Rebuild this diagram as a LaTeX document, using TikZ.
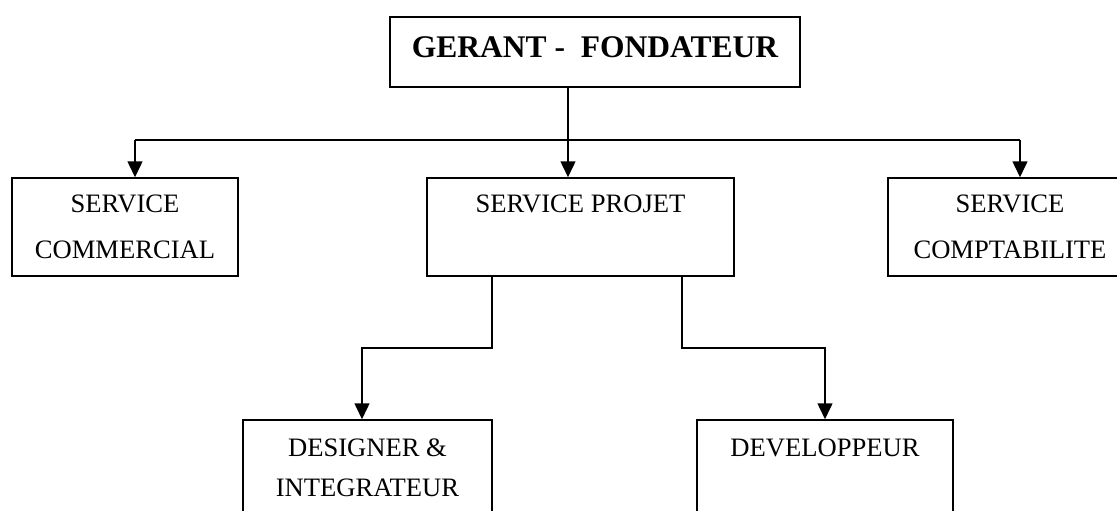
\documentclass[tikz,border=0pt]{standalone}
\usepackage{fontspec}
\setmainfont{Liberation Serif}
\usetikzlibrary{arrows.meta}

\begin{document}
\begin{tikzpicture}[x=1pt,y=-1pt,
  box/.style={draw, line width=1.5pt, inner sep=0pt, align=center,
    font=\fontsize{26.6pt}{46pt}\selectfont},
  link/.style={line width=1.5pt},
  arrow/.style={link, -{Triangle[width=15pt,length=16pt]}}]
  \useasboundingbox (0,0) rectangle (1117,511);
  \node[box, minimum width=410pt, minimum height=70pt, text depth=9pt,
    font=\fontsize{31.5pt}{36pt}\selectfont\bfseries] (gerant) at (595,52) {GERANT - \ FONDATEUR};
  \node[box, minimum width=226pt, minimum height=98pt] (commercial) at (125,227) {SERVICE\\COMMERCIAL};
  \node[box, minimum width=307pt, minimum height=98pt] (projet) at (580.5,227) {SERVICE PROJET\\\mbox{}};
  \node[box, minimum width=244pt, minimum height=98pt] (compta) at (1010,227) {SERVICE\\COMPTABILITE};
  \node[box, minimum width=249pt, minimum height=96pt,
    font=\fontsize{26.6pt}{40pt}\selectfont] (designer) at (367.5,468) {DESIGNER \&\\INTEGRATEUR};
  \node[box, minimum width=256pt, minimum height=96pt,
    font=\fontsize{26.6pt}{40pt}\selectfont] (dev) at (825,468) {DEVELOPPEUR\\\mbox{}};
  \coordinate (hub) at (568,140);
  \coordinate (lturn) at (135,140);
  \coordinate (rturn) at (1020,140);
  \coordinate (lknee) at (492,348);
  \coordinate (rknee) at (682,348);
  \coordinate (ldrop) at (362,348);
  \coordinate (rdrop) at (825,348);
  \draw[arrow] (gerant.south -| hub) -- (projet.north -| hub);
  \draw[link] (lturn) -- (rturn);
  \draw[arrow] (lturn) -- (commercial.north -| lturn);
  \draw[arrow] (rturn) -- (compta.north -| rturn);
  \draw[arrow] (projet.south -| lknee) -- (lknee) -- (ldrop) -- (designer.north -| ldrop);
  \draw[arrow] (projet.south -| rknee) -- (rknee) -- (rdrop) -- (dev.north -| rdrop);
\end{tikzpicture}
\end{document}
